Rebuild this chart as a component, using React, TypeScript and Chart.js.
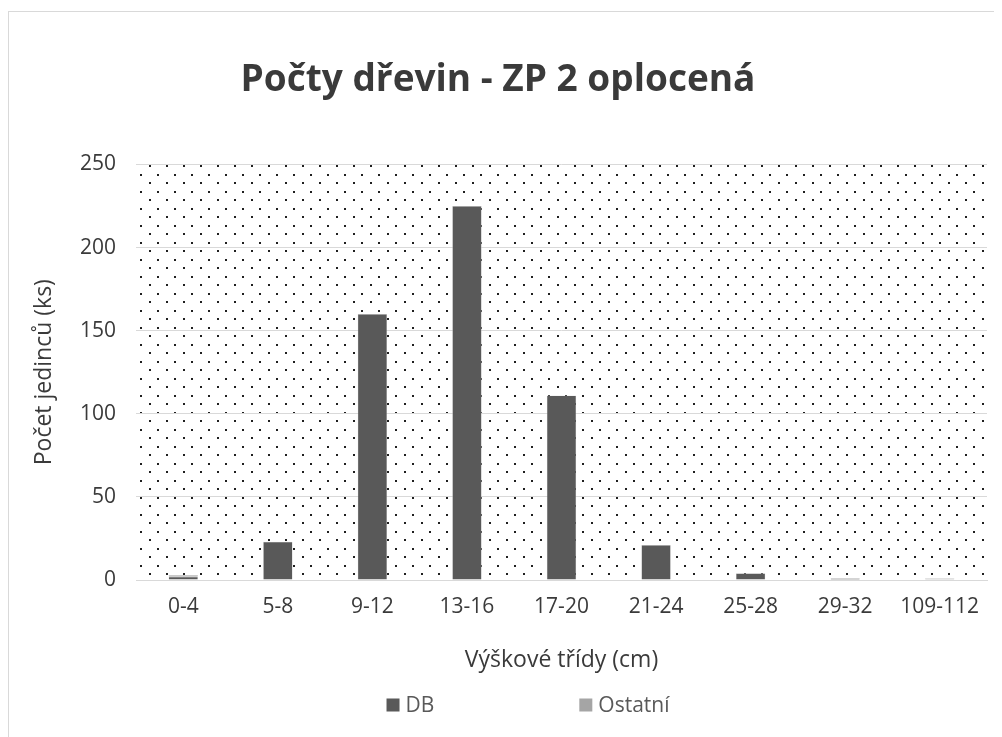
import React, { useEffect, useRef } from "react";
import { Chart, registerables } from "chart.js";

Chart.register(...registerables);

const categories = ["0-4", "5-8", "9-12", "13-16", "17-20", "21-24", "25-28", "29-32", "109-112"];
const dbValues = [2, 23, 160, 225, 111, 21, 4, 1, 0];
const ostatniValues = [1, 0, 0, 0, 0, 0, 0, 0, 1];
const seriesNames = ["DB", "Ostatní"];
const chartTitle = "Počty dřevin - ZP 2 oplocená";
const xTitle = "Výškové třídy (cm)";
const yTitle = "Počet jedinců (ks)";
const yMin = 0;
const yMax = 250;
const yStep = 50;

const FONT = '"Open Sans", "Liberation Sans", sans-serif';
const TEXT = "#3a3a3a";

const dotPattern = {
  id: "dotPattern",
  beforeDraw(chart: any) {
    const { ctx, chartArea } = chart;
    if (!chartArea) return;
    const { left, top, right, bottom } = chartArea;
    ctx.save();
    ctx.fillStyle = "#ffffff";
    ctx.fillRect(0, 0, chart.width, chart.height);
    ctx.beginPath();
    ctx.rect(left, top, right - left, bottom - top);
    ctx.clip();
    ctx.fillStyle = "#1f1f1f";
    const step = 17;
    for (let y = top - step; y < bottom + step; y += step) {
      for (let x = left - step; x < right + step; x += step) {
        ctx.fillRect(Math.round(x + 4), Math.round(y + 9.5), 2, 2);
        ctx.fillRect(Math.round(x + 12.5), Math.round(y + 1), 2, 2);
      }
    }
    ctx.restore();
  },
};

const customLegend = {
  id: "customLegend",
  afterDraw(chart: any) {
    const ctx = chart.ctx;
    const items = chart.data.datasets.map((ds: any) => ({ label: ds.label, color: ds.backgroundColor }));
    ctx.save();
    ctx.font = `21px ${FONT}`;
    ctx.textBaseline = "middle";
    ctx.textAlign = "left";
    const box = 13;
    const gapText = 6;
    const gapItem = 145;
    const widths = items.map((it: any) => box + gapText + ctx.measureText(it.label).width);
    const total = widths.reduce((a: number, b: number) => a + b, 0) + gapItem * (items.length - 1);
    let x = 519 - total / 2;
    const cy = 693;
    items.forEach((it: any, i: number) => {
      ctx.fillStyle = it.color;
      ctx.fillRect(x, cy - box / 2, box, box);
      ctx.fillStyle = "#595959";
      ctx.fillText(it.label, x + box + gapText, cy + 1);
      x += widths[i] + gapItem;
    });
    ctx.restore();
  },
};

export default function App() {
  const canvasRef = useRef<HTMLCanvasElement | null>(null);

  useEffect(() => {
    if (!canvasRef.current) return;
    const chart = new Chart(canvasRef.current, {
      type: "bar",
      data: {
        labels: categories,
        datasets: [
          {
            label: seriesNames[0],
            data: dbValues,
            backgroundColor: "#595959",
            borderColor: "#d9d9d9",
            borderWidth: 0.5,
            barPercentage: 0.312,
            categoryPercentage: 1,
          },
          {
            label: seriesNames[1],
            data: ostatniValues,
            backgroundColor: "#a5a5a5",
            borderColor: "#d9d9d9",
            borderWidth: 0.5,
            barPercentage: 0.312,
            categoryPercentage: 1,
          },
        ],
      },
      options: {
        animation: false,
        responsive: false,
        maintainAspectRatio: false,
        layout: { padding: { left: 0, right: 16, top: 0, bottom: 64 } },
        plugins: {
          legend: { display: false },
          tooltip: { enabled: false },
          title: {
            display: true,
            text: chartTitle,
            color: TEXT,
            font: { family: FONT, size: 37, weight: "bold" },
            padding: { top: 46, bottom: 62 },
          },
        },
        scales: {
          x: {
            stacked: true,
            grid: { display: false, drawTicks: false },
            border: { display: true, color: "#d9d9d9", width: 1 },
            ticks: { color: TEXT, font: { family: FONT, size: 21 }, padding: 14, maxRotation: 0 },
            title: {
              display: true,
              text: xTitle,
              color: TEXT,
              font: { family: FONT, size: 23 },
              padding: { top: 0, bottom: 0 },
            },
            afterFit: (scale: any) => {
              scale.height = 94;
            },
          },
          y: {
            stacked: true,
            min: yMin,
            max: yMax,
            ticks: { stepSize: yStep, color: TEXT, font: { family: FONT, size: 21 }, padding: 20 },
            grid: { color: "#d9d9d9", lineWidth: 1, drawTicks: false },
            border: { display: false },
            title: {
              display: true,
              text: yTitle,
              color: TEXT,
              font: { family: FONT, size: 23 },
              padding: { top: 22, bottom: 0 },
            },
            afterFit: (scale: any) => {
              scale.width = 127;
            },
          },
        },
      },
      plugins: [dotPattern, customLegend],
    });
    return () => chart.destroy();
  }, []);

  return (
    <div
      style={{
        marginTop: 3,
        width: 994,
        height: 726,
        borderLeft: "1px solid #d9d9d9",
        borderTop: "1px solid #d9d9d9",
        background: "#ffffff",
      }}
    >
      <canvas ref={canvasRef} width={994} height={726} style={{ display: "block" }} />
    </div>
  );
}
